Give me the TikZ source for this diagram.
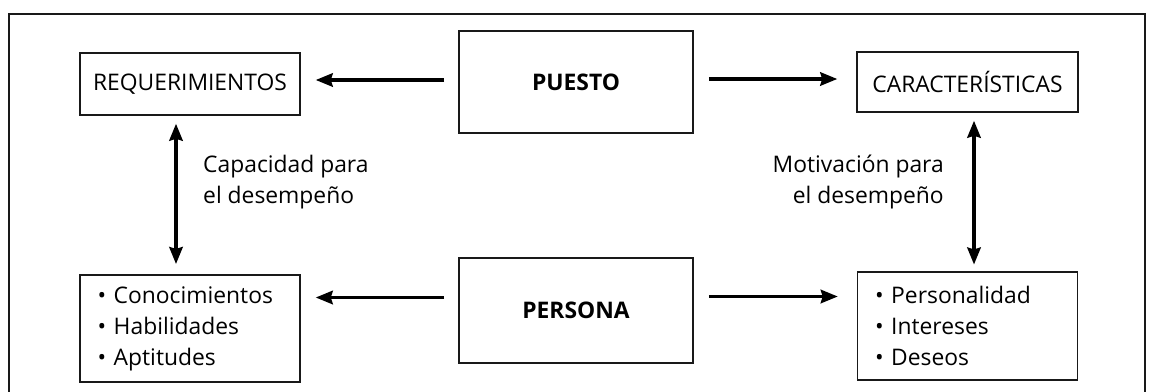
\documentclass[tikz,border=0pt]{standalone}
\usepackage{fontspec}
\setmainfont{Open Sans}
\usetikzlibrary{arrows.meta}
\usetikzlibrary{positioning}
\tikzset{
frame/.style = { draw = black!90, line width = 1.3pt },
label box/.style = { rectangle, draw = black!90, fill = white, line width = 0.9pt, text = black, font = \fontsize{13}{17.6}\selectfont },
head box/.style = { rectangle, draw = black!90, fill = white, line width = 0.9pt, text = black, minimum width = 4.68cm, font = \fontsize{13}{16}\selectfont\bfseries },
list box/.style = { label box, align = left, text width = 3.7cm, inner xsep = 0.35cm, minimum height = 2.15cm },
link/.style = { draw = black, line width = 1.8pt, -{Stealth[length = 0.34cm, width = 0.27cm, inset = 0.04cm]} },
both link/.style = { link, {Stealth[length = 0.34cm, width = 0.27cm, inset = 0.04cm]}-{Stealth[length = 0.34cm, width = 0.27cm, inset = 0.04cm]} },
note/.style = { text = black, font = \fontsize{13}{17.6}\selectfont },
}

\begin{document}
\begin{tikzpicture}[x = 0.02cm, y = -0.02cm]
      \useasboundingbox (0, 0) rectangle (1149, 392);
      \draw[frame] (9, 430) -- (9, 14) -- (1145, 14) -- (1145, 430);
      % top row
      \node[label box, minimum width = 4.4cm, minimum height = 1.24cm] (req) at (190, 84) {REQUERIMIENTOS};
      \node[head box, minimum height = 2.04cm] (puesto) at (576, 82) {PUESTO};
      \node[label box, minimum width = 4.42cm, minimum height = 1.2cm] (carac) at (967.5, 82) {CARACTERÍSTICAS};
      % bottom row
      \node[list box] (saber) at (190, 328.5) {\textbullet\ Conocimientos\\ \textbullet\ Habilidades\\ \textbullet\ Aptitudes};
      \node[head box, minimum height = 2.1cm] (persona) at (576, 310.5) {PERSONA};
      \node[list box] (rasgos) at (967.5, 326) {\textbullet\ Personalidad\\ \textbullet\ Intereses\\ \textbullet\ Deseos};
      % arrows
      \draw[link, shorten <= 0.28cm, shorten >= 0.3cm] ([yshift = 0.04cm]puesto.west) -- ([yshift = 0.04cm]puesto.west -| req.east);
      \draw[link, shorten <= 0.3cm, shorten >= 0.38cm] ([yshift = 0.06cm]puesto.east) -- ([yshift = 0.06cm]puesto.east -| carac.west);
      \draw[link, shorten <= 0.28cm, shorten >= 0.3cm] ([yshift = 0.26cm]persona.west) -- ([yshift = 0.26cm]persona.west -| saber.east);
      \draw[link, shorten <= 0.3cm, shorten >= 0.38cm] ([yshift = 0.28cm]persona.east) -- ([yshift = 0.28cm]persona.east -| rasgos.west);
      \draw[both link, shorten <= 0.16cm, shorten >= 0.2cm] ([xshift = -0.28cm]req.south) -- ([xshift = -0.28cm]req.south |- saber.north);
      \draw[both link, shorten <= 0.16cm, shorten >= 0.14cm] ([xshift = 0.13cm]carac.south) -- ([xshift = 0.13cm]carac.south |- rasgos.north);
      % labels
      \node[note, align = left, anchor = west] (capacidad) at (197, 182) {Capacidad para\\el desempeño};
      \node[note, align = right, anchor = east] (motivacion) at (950, 182) {Motivación para\\el desempeño};
\end{tikzpicture}
\end{document}
